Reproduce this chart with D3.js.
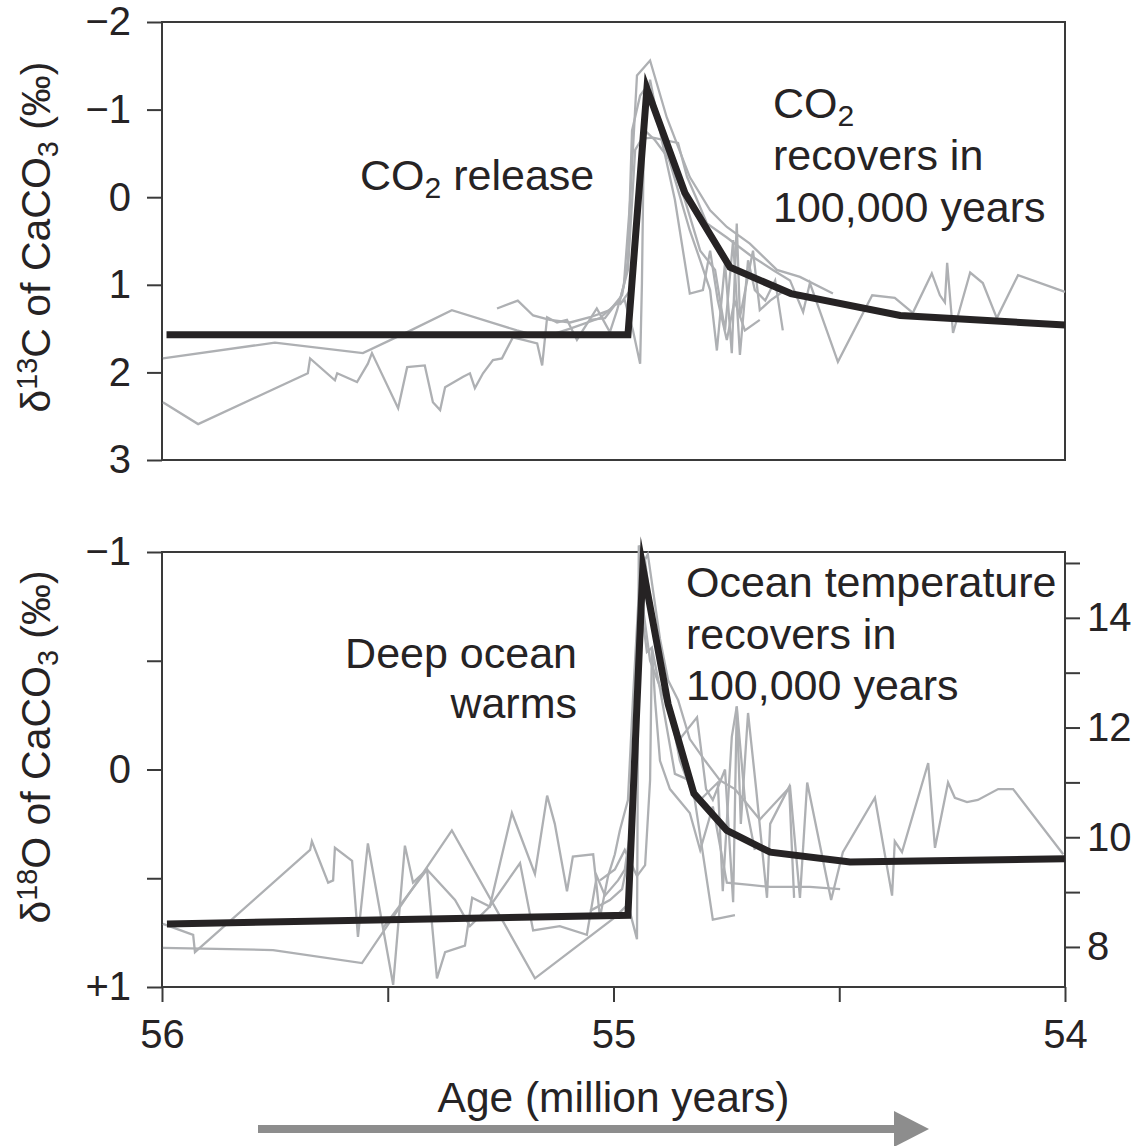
<!DOCTYPE html>
<html>
<head>
<meta charset="utf-8">
<script src="https://cdn.jsdelivr.net/npm/d3@7"></script>
<style>
  html, body { margin: 0; padding: 0; background: #fff; }
  svg { display: block; font-family: "Liberation Sans", Arial, Helvetica, sans-serif; }
</style>
</head>
<body>
<svg id="chart" width="1144" height="1146"></svg>
<script>
// ---- Axis ticks ----
const ageTicks = [56, 55.5, 55, 54.5, 54];
const ageTickLabels = ["56", "", "55", "", "54"];
const carbonTicks = [-2, -1, 0, 1, 2, 3];
const oxygenTicks = [-1, -0.5, 0, 0.5, 1];
const oxygenTickLabels = ["\u22121", "", "0", "", "+1"];
const tempTicks = [8, 9, 10, 11, 12, 13, 14, 15];

// ---- δ13C: smoothed trend (black) ----
const carbonTrendAge = [55.99, 54.968, 54.926, 54.842, 54.742, 54.607, 54.365, 54.0];
const carbonTrendVal = [1.57, 1.57, -1.24, -0.05, 0.80, 1.10, 1.35, 1.46];

// ---- δ13C: individual core records (grey), [age, value] ----
const carbonCore1 = [[55.998,2.34],[55.920,2.59],[55.677,2.01],[55.672,1.84],[55.617,2.09],[55.612,2.01],[55.568,2.11],[55.544,1.90],[55.535,1.78],[55.477,2.41],[55.457,1.94],[55.418,1.92],[55.400,2.34],[55.384,2.43],[55.373,2.17],[55.333,2.05],[55.318,2.01],[55.307,2.18],[55.289,2.01],[55.267,1.86],[55.247,1.84],[55.223,1.60],[55.200,1.63],[55.169,1.67],[55.158,1.92],[55.147,1.37],[55.125,1.43],[55.103,1.40],[55.081,1.63],[55.068,1.52],[55.037,1.27],[55.023,1.40],[55.008,1.54],[54.992,1.29],[54.977,1.00],[54.963,0.03],[54.948,-1.39],[54.919,-1.56],[54.882,-0.91],[54.831,-0.23],[54.786,0.15],[54.749,0.34],[54.698,0.53],[54.638,0.83],[54.587,0.91],[54.514,1.10]];
const carbonCore2 = [[55.998,1.84],[55.750,1.66],[55.555,1.78],[55.457,1.54],[55.358,1.29],[55.214,1.52],[55.156,1.60],[55.096,1.50],[55.030,1.38],[54.986,1.18],[54.968,0.83],[54.952,-0.54],[54.937,-0.67],[54.913,-0.68],[54.857,-0.62],[54.837,-0.23],[54.815,0.03],[54.793,0.30],[54.749,0.46],[54.698,0.66],[54.647,0.83],[54.609,0.95],[54.580,1.31],[54.565,0.98],[54.503,1.88],[54.427,1.12],[54.377,1.15],[54.337,1.32],[54.295,0.87],[54.277,1.12],[54.266,1.20],[54.261,0.75],[54.248,1.55],[54.210,0.86],[54.182,0.98],[54.151,1.38],[54.104,0.89],[54.000,1.08]];
const carbonCore3 = [[55.258,1.27],[55.212,1.18],[55.178,1.35],[55.141,1.40],[55.096,1.43],[55.052,1.37],[55.008,1.29],[54.981,1.12],[54.968,0.72],[54.959,-0.76],[54.941,-1.16],[54.924,-1.28],[54.897,-0.76],[54.870,-0.31],[54.831,0.38],[54.808,0.72],[54.786,1.06],[54.771,1.75],[54.753,0.75],[54.738,1.78],[54.727,0.30],[54.720,1.37],[54.691,0.61],[54.676,1.29],[54.653,1.18],[54.620,1.06]];
const carbonCore4 = [[55.052,1.40],[55.019,1.38],[54.997,1.23],[54.975,1.18],[54.957,1.52],[54.941,1.90],[54.937,0.98],[54.932,-0.99],[54.919,-1.34],[54.893,-0.65],[54.864,0.03],[54.831,1.10],[54.802,1.06],[54.786,0.61],[54.769,1.18],[54.749,1.63],[54.732,1.18],[54.709,1.52],[54.676,1.40]];
const carbonCore5 = [[54.986,1.23],[54.963,1.06],[54.948,0.03],[54.930,-0.76],[54.908,-0.65],[54.875,-0.42],[54.842,0.03],[54.808,0.61],[54.775,0.83],[54.753,1.52],[54.735,0.49],[54.720,1.80],[54.702,0.72],[54.687,1.06],[54.664,1.18],[54.642,0.95],[54.625,1.52]];

// ---- δ18O: smoothed trend (black) ----
const oxygenTrendAge = [55.989, 54.968, 54.935, 54.879, 54.822, 54.749, 54.653, 54.476, 54.0];
const oxygenTrendVal = [0.71, 0.67, -0.93, -0.30, 0.11, 0.28, 0.38, 0.425, 0.41];

// ---- δ18O: individual core records (grey), [age, value] ----
const oxygenCore1 = [[55.998,0.82],[55.754,0.83],[55.557,0.89],[55.358,0.28],[55.174,0.96],[54.997,0.68],[54.968,0.62],[54.948,0.78],[54.944,-1.03],[54.930,-0.96],[54.908,-0.60],[54.879,-0.32],[54.853,-0.04],[54.820,0.14],[54.780,0.69],[54.731,0.67]];
const oxygenCore2 = [[55.998,0.71],[55.931,0.76],[55.927,0.84],[55.672,0.37],[55.668,0.33],[55.632,0.52],[55.621,0.51],[55.617,0.36],[55.579,0.42],[55.566,0.77],[55.544,0.34],[55.488,0.99],[55.462,0.35],[55.444,0.52],[55.413,0.46],[55.391,0.96],[55.373,0.84],[55.329,0.81],[55.313,0.59],[55.274,0.63],[55.225,0.20],[55.174,0.48],[55.147,0.12],[55.130,0.25],[55.103,0.56],[55.090,0.40],[55.045,0.39],[55.030,0.68],[55.012,0.49],[54.997,0.39],[54.986,0.28],[54.968,0.14],[54.957,-0.32],[54.941,-0.92],[54.924,-0.99],[54.897,-0.60],[54.879,-0.41],[54.857,-0.32],[54.831,-0.14],[54.797,-0.04],[54.764,0.05],[54.731,0.09],[54.676,0.23],[54.609,0.08],[54.587,0.59],[54.571,0.06],[54.518,0.60],[54.492,0.38],[54.421,0.13],[54.383,0.58],[54.377,0.33],[54.361,0.38],[54.303,-0.03],[54.288,0.36],[54.259,0.06],[54.244,0.13],[54.217,0.15],[54.193,0.14],[54.148,0.09],[54.115,0.09],[54.004,0.39]];
const oxygenCore3 = [[55.511,0.73],[55.413,0.46],[55.351,0.60],[55.318,0.72],[55.274,0.63],[55.207,0.43],[55.178,0.74],[55.119,0.72],[55.059,0.76],[55.037,0.49],[55.019,0.58],[54.990,0.51],[54.975,0.46],[54.959,0.23],[54.941,-0.78],[54.926,-0.54],[54.915,-0.56],[54.908,-0.32],[54.897,-0.04],[54.875,0.09],[54.831,0.20],[54.808,0.37],[54.780,0.17],[54.749,0.52],[54.698,0.53],[54.653,0.54],[54.565,0.54],[54.498,0.55]];
const oxygenCore4 = [[55.052,0.65],[55.008,0.60],[54.981,0.55],[54.963,0.37],[54.950,-0.32],[54.937,-0.78],[54.919,-0.50],[54.886,-0.32],[54.853,-0.14],[54.815,-0.24],[54.795,0.09],[54.780,0.14],[54.753,0.00],[54.735,0.61],[54.727,-0.29],[54.718,0.25],[54.702,-0.26],[54.684,0.09],[54.660,0.59],[54.653,0.25],[54.611,0.08],[54.600,0.59]];
const oxygenCore5 = [[55.030,0.51],[54.997,0.46],[54.975,0.37],[54.948,0.49],[54.930,0.44],[54.919,0.05],[54.915,-0.56],[54.897,-0.37],[54.864,0.02],[54.831,0.05],[54.808,0.14],[54.769,0.06],[54.758,0.56],[54.738,-0.15],[54.727,-0.29],[54.709,0.14],[54.687,0.37]];

const carbonCores = [carbonCore1, carbonCore2, carbonCore3, carbonCore4, carbonCore5];
const oxygenCores = [oxygenCore1, oxygenCore2, oxygenCore3, oxygenCore4, oxygenCore5];

// ---- Styling ----
const ink = "#262324";
const axisInk = "#3a3a3a";
const coreGrey = "#aeb0b3";
const arrowGrey = "#8d8d8d";

const svg = d3.select("#chart");

// ---- Scales ----
const x = d3.scaleLinear().domain([56, 54]).range([162, 1065]);
const yC = d3.scaleLinear().domain([-2, 3]).range([22, 460]);
const yO = d3.scaleLinear().domain([-1, 1]).range([552, 987]);
// bottom-water temperature (°C) equivalent of δ18O
const yT = d3.scaleLinear().domain([15.2, 7.27]).range([552, 987]);

function styleAxis(g, fontSize) {
  g.select(".domain").remove();
  g.selectAll(".tick line").attr("stroke", axisInk).attr("stroke-width", 2);
  g.selectAll(".tick text")
    .attr("fill", ink)
    .style("font-size", fontSize + "px")
    .style("font-family", "'Liberation Sans', Arial, Helvetica, sans-serif");
}

// ---- Panel frames ----
svg.append("rect")
  .attr("x", x(56)).attr("y", yC(-2))
  .attr("width", x(54) - x(56)).attr("height", yC(3) - yC(-2))
  .attr("fill", "none").attr("stroke", axisInk).attr("stroke-width", 2);
svg.append("rect")
  .attr("x", x(56)).attr("y", yO(-1))
  .attr("width", x(54) - x(56)).attr("height", yO(1) - yO(-1))
  .attr("fill", "none").attr("stroke", axisInk).attr("stroke-width", 2);

// ---- Axes ----
svg.append("g")
  .attr("transform", `translate(${x(56)},0)`)
  .call(d3.axisLeft(yC).tickValues(carbonTicks).tickSize(15).tickPadding(16)
    .tickFormat(d => d < 0 ? "\u2212" + Math.abs(d) : String(d)))
  .call(g => styleAxis(g, 40));

svg.append("g")
  .attr("transform", `translate(${x(56)},0)`)
  .call(d3.axisLeft(yO).tickValues(oxygenTicks).tickSize(15).tickPadding(16)
    .tickFormat((d, i) => oxygenTickLabels[i]))
  .call(g => styleAxis(g, 40));

svg.append("g")
  .attr("transform", `translate(${x(54)},0)`)
  .call(d3.axisRight(yT).tickValues(tempTicks).tickSize(15).tickPadding(7)
    .tickFormat(d => d % 2 === 0 ? String(d) : ""))
  .call(g => styleAxis(g, 40));

svg.append("g")
  .attr("transform", `translate(0,${yO(1)})`)
  .call(d3.axisBottom(x).tickValues(ageTicks).tickSize(15).tickPadding(18)
    .tickFormat((d, i) => ageTickLabels[i]))
  .call(g => styleAxis(g, 40));

// ---- Lines ----
const line = (ys) => d3.line().x(d => x(d[0])).y(d => ys(d[1]));

const carbonG = svg.append("g");
carbonG.selectAll("path.core")
  .data(carbonCores).join("path")
  .attr("class", "core")
  .attr("d", line(yC))
  .attr("fill", "none").attr("stroke", coreGrey)
  .attr("stroke-width", 2.3).attr("stroke-linejoin", "miter");
carbonG.append("path")
  .datum(carbonTrendAge.map((a, i) => [a, carbonTrendVal[i]]))
  .attr("d", line(yC))
  .attr("fill", "none").attr("stroke", ink)
  .attr("stroke-width", 7).attr("stroke-linejoin", "miter").attr("stroke-miterlimit", 10);

const oxygenG = svg.append("g");
oxygenG.selectAll("path.core")
  .data(oxygenCores).join("path")
  .attr("class", "core")
  .attr("d", line(yO))
  .attr("fill", "none").attr("stroke", coreGrey)
  .attr("stroke-width", 2.3).attr("stroke-linejoin", "miter");
oxygenG.append("path")
  .datum(oxygenTrendAge.map((a, i) => [a, oxygenTrendVal[i]]))
  .attr("d", line(yO))
  .attr("fill", "none").attr("stroke", ink)
  .attr("stroke-width", 7).attr("stroke-linejoin", "miter").attr("stroke-miterlimit", 10);

// ---- Text helpers ----
const fs = 43;
function label(xp, yp, anchor) {
  return svg.append("text")
    .attr("x", xp).attr("y", yp)
    .attr("text-anchor", anchor || "start")
    .attr("fill", ink)
    .style("font-size", fs + "px");
}
function withSub(t, before, sub, after) {
  t.append("tspan").text(before);
  t.append("tspan").text(sub).style("font-size", "70%").attr("dy", "0.28em");
  if (after) t.append("tspan").text(after).attr("dy", "-0.2em");
}

// Y-axis titles
function yTitle(cx, cy, iso, mass) {
  const t = svg.append("text")
    .attr("transform", `translate(${cx},${cy}) rotate(-90)`)
    .attr("text-anchor", "middle")
    .attr("fill", ink)
    .style("font-size", "41px");
  t.append("tspan").text("\u03b4");
  t.append("tspan").text(mass).style("font-size", "70%").attr("dy", "-0.45em");
  t.append("tspan").text(iso + " of CaCO").attr("dy", "0.315em");
  t.append("tspan").text("3").style("font-size", "70%").attr("dy", "0.28em");
  t.append("tspan").text(" (\u2030)").attr("dy", "-0.2em");
}
yTitle(50, 237, "C", "13");
yTitle(50, 747, "O", "18");

// Annotations – top panel
withSub(label(360, 190), "CO", "2", " release");
withSub(label(773, 118), "CO", "2");
label(773, 170).text("recovers in");
label(773, 222).text("100,000 years");

// Annotations – bottom panel
label(577, 668, "end").text("Deep ocean");
label(577, 718, "end").text("warms");
label(686, 597).text("Ocean temperature");
label(686, 649).text("recovers in");
label(686, 700).text("100,000 years");

// X-axis title
svg.append("text")
  .attr("x", x(55)).attr("y", 1112)
  .attr("text-anchor", "middle")
  .attr("fill", ink)
  .style("font-size", "42.5px")
  .text("Age (million years)");

// Time-direction arrow
svg.append("rect")
  .attr("x", 258).attr("y", 1125).attr("width", 637).attr("height", 8)
  .attr("fill", arrowGrey);
svg.append("path")
  .attr("d", "M894,1111 L929,1129 L894,1147 Z")
  .attr("fill", arrowGrey);
</script>
</body>
</html>
